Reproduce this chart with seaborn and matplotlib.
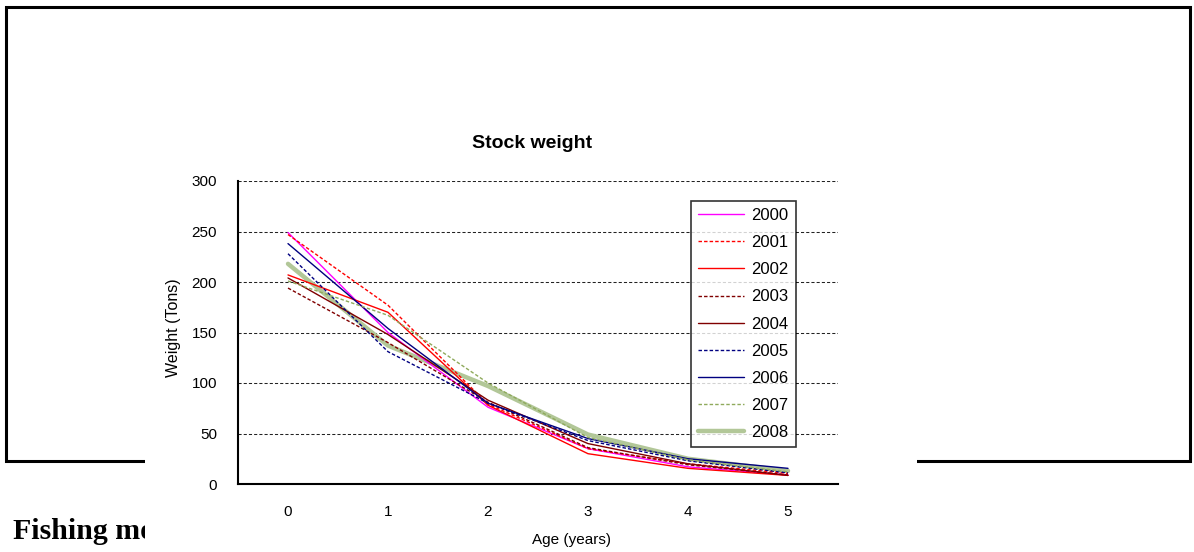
import numpy as np
import pandas as pd
import matplotlib
matplotlib.use("Agg")
import matplotlib.pyplot as plt
from matplotlib.patches import Rectangle
import seaborn as sns

# ---- data ----
ages = [0, 1, 2, 3, 4, 5]
years = ["2000", "2001", "2002", "2003", "2004", "2005", "2006", "2007", "2008"]
w2000 = [249, 150, 76, 35, 17, 9]
w2001 = [247, 177, 79, 35, 20, 10.5]
w2002 = [207, 170, 78, 30, 15.5, 8.5]
w2003 = [194, 140, 81, 36, 19, 9]
w2004 = [204, 148, 83, 40, 20, 8.5]
w2005 = [228, 131, 80, 43, 23, 11]
w2006 = [238, 154, 80, 45, 25, 15.5]
w2007 = [201, 167, 100, 46, 24, 12]
w2008 = [218, 137, 97, 49, 25, 13]
series = [w2000, w2001, w2002, w2003, w2004, w2005, w2006, w2007, w2008]
yticks = [0, 50, 100, 150, 200, 250, 300]

colors = ["#FF00FF", "#FF0000", "#FF0000", "#800000", "#800000",
          "#000080", "#000080", "#8FAA5C", "#B2C798"]
styles = ["-", (0, (2.5, 1.5)), "-", (0, (2.5, 1.5)), "-",
          (0, (2.5, 1.5)), "-", (0, (2.5, 1.5)), "-"]
widths = [1.0, 1.0, 1.0, 1.0, 1.0, 1.0, 1.0, 1.0, 3.2]

sns.set_style("white")
plt.rcParams['font.family'] = ['Liberation Sans', 'DejaVu Sans']
plt.rcParams['text.color'] = 'black'
plt.rcParams['axes.labelcolor'] = 'black'
plt.rcParams['xtick.color'] = 'black'
plt.rcParams['ytick.color'] = 'black'

W, H = 1194, 552
fig = plt.figure(figsize=(W / 100, H / 100), dpi=100)
fig.patch.set_facecolor("white")

# outer document box
fig.add_artist(Rectangle((6 / W, (H - 461) / H), (1190 - 6) / W, (461 - 6.5) / H,
                         transform=fig.transFigure, fill=False, edgecolor="black",
                         linewidth=2.2, zorder=1))
fig.text(13 / W, (H - 539) / H, "Fishing mo", family=["Liberation Serif", "DejaVu Serif"],
         fontweight="bold", fontsize=21.5, va="baseline", ha="left", zorder=1,
         color="black")
# chart area (white) covering part of the document
fig.add_artist(Rectangle((145 / W, 0), (917 - 145) / W, 130 / H,
                         transform=fig.transFigure, facecolor="white",
                         edgecolor="none", zorder=2))

ax = fig.add_axes([238 / W, (H - 484) / H, 600 / W, 303 / H])
ax.set_zorder(5)
ax.patch.set_alpha(0)

for yr, vals, c, ls, lw in zip(years, series, colors, styles, widths):
    sns.lineplot(x=ages, y=vals, ax=ax, color=c, linestyle=ls, linewidth=lw,
                 label=yr, zorder=3 if yr != "2008" else 2.5)

ax.set_xlim(-0.5, 5.5)
ax.set_ylim(0, 300)
ax.set_yticks(yticks)
ax.set_xticks(np.arange(-0.5, 6, 1))
ax.set_xticklabels([])
ax.set_xticks(ages, minor=True)
ax.set_xticklabels([str(a) for a in ages], minor=True)
ax.tick_params(axis="x", which="major", direction="out", length=5, width=1, color="black")
ax.tick_params(axis="x", which="minor", length=0, pad=15, labelsize=11)
ax.tick_params(axis="y", direction="out", length=5, width=1, color="black", pad=10, labelsize=11)

for y in yticks[1:]:
    ax.axhline(y, color="#222222", linewidth=0.75, linestyle=(0, (3, 2)), zorder=1)

for s in ["top", "right"]:
    ax.spines[s].set_visible(False)
for s in ["left", "bottom"]:
    ax.spines[s].set_color("black")
    ax.spines[s].set_linewidth(1.5)

ax.set_xlabel("Age (years)", fontsize=11)
ax.set_ylabel("Weight (Tons)", fontsize=11.5)
ax.xaxis.set_label_coords((572 - 238) / 600, (484 - 533) / 303)
ax.yaxis.set_label_coords((181 - 238) / 600, (484 - 328) / 303)

fig.text(532 / W, (H - 143) / H, "Stock weight", fontsize=14, fontweight="bold",
         ha="center", va="center")

leg = ax.legend(loc="upper left", bbox_to_anchor=(0.755, 0.934), borderaxespad=0,
                fontsize=12, frameon=True, fancybox=False, edgecolor="black",
                handlelength=2.75, handletextpad=0.45, labelspacing=0.73,
                borderpad=0.42)
leg.get_frame().set_linewidth(1.2)
leg.set_zorder(10)
for t in leg.get_texts():
    t.set_color("black")

fig.savefig("out.png", dpi=100, facecolor="white")
